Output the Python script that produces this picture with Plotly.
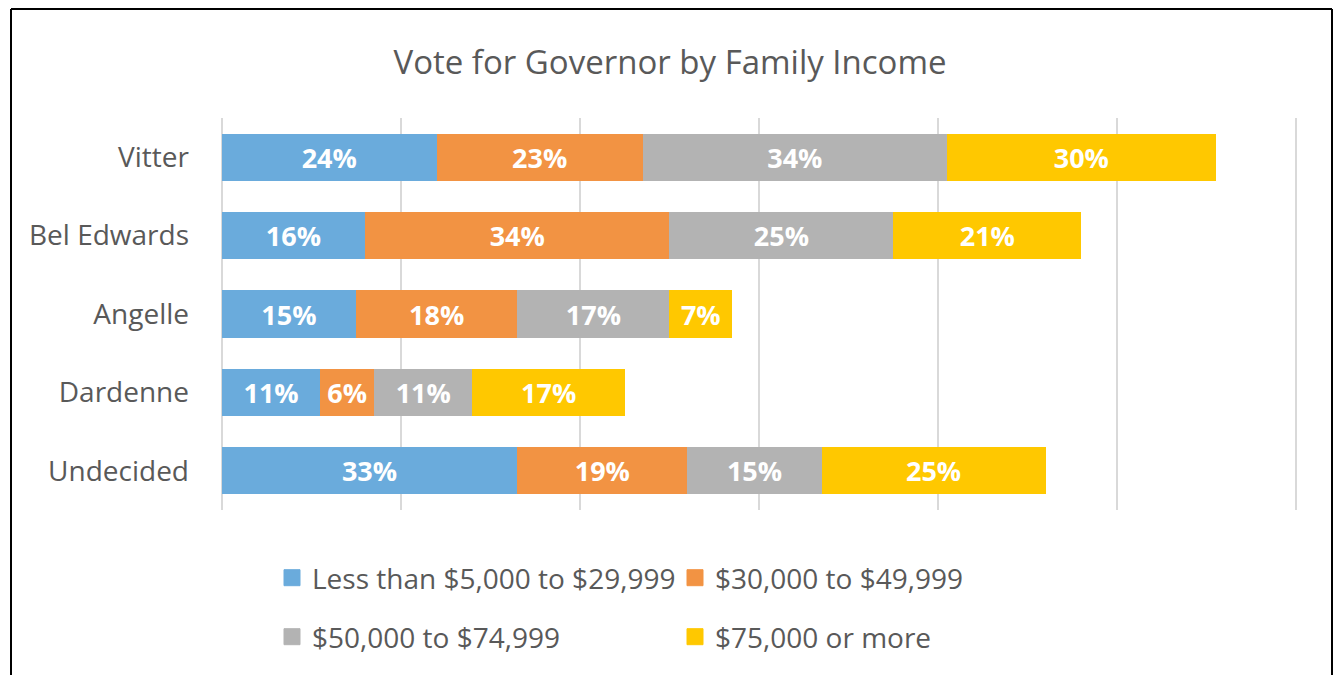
import plotly.graph_objects as go

categories = ["Vitter", "Bel Edwards", "Angelle", "Dardenne", "Undecided"]
series_names = ["Less than $5,000 to $29,999", "$30,000 to $49,999",
                "$50,000 to $74,999", "$75,000 or more"]
low_income = [24, 16, 15, 11, 33]
mid_income = [23, 34, 18, 6, 19]
upper_mid_income = [34, 25, 17, 11, 15]
high_income = [30, 21, 7, 17, 25]
x_ticks = [0, 20, 40, 60, 80, 100, 120]

series_values = [low_income, mid_income, upper_mid_income, high_income]
colors = ["#6AABDC", "#F29343", "#B3B3B3", "#FFC800"]
legend_ids = ["legend", "legend", "legend2", "legend2"]

W, H = 1340, 675
ML, MR, MT, MB = 220, 42, 118, 165
FONT = "Open Sans"
TXT = "#595959"

fig = go.Figure()
for name, vals, col in zip(series_names, series_values, colors):
    fig.add_trace(go.Bar(
        y=categories, x=vals, name=name, orientation="h",
        marker=dict(color=col, line=dict(width=0)),
        text=[f"{v}%" for v in vals], textposition="inside",
        insidetextanchor="middle", textangle=0,
        textfont=dict(family=FONT, size=27, color="white", weight="bold"),
        showlegend=False, hoverinfo="skip",
    ))
# legend entries with larger square swatches
for name, col, lg in zip(series_names, colors, legend_ids):
    fig.add_trace(go.Scatter(
        x=[None], y=[None], mode="markers", name=name, legend=lg,
        marker=dict(symbol="square", size=16, color=col, line=dict(width=1, color=col)),
        showlegend=True, hoverinfo="skip",
    ))

pw = W - ML - MR
ph = H - MT - MB
def px_x(p):
    return (p - ML) / pw
def px_y(p):
    return (H - MB - p) / ph

legend_common = dict(orientation="h", xref="container", yref="container",
                     x=272 / W, xanchor="left", yanchor="middle",
                     entrywidth=358, entrywidthmode="pixels", itemsizing="trace",
                     font=dict(family=FONT, size=28, color=TXT), traceorder="normal")

fig.update_layout(
    width=W, height=H, barmode="stack", bargap=0.4,
    paper_bgcolor="white", plot_bgcolor="white",
    margin=dict(l=ML, r=MR, t=MT, b=MB),
    font=dict(family=FONT, color=TXT),
    title=dict(text="Vote for Governor by Family Income", x=0.5, xref="container",
               xanchor="center", y=1 - 62 / H, yref="container", yanchor="middle",
               font=dict(family=FONT, size=33, color=TXT)),
    xaxis=dict(range=[x_ticks[0] - 0.2, x_ticks[-1] + 0.2], tickvals=x_ticks,
               showticklabels=False, showgrid=True, gridcolor="#D9D9D9", gridwidth=2,
               zeroline=False, showline=False, fixedrange=True),
    yaxis=dict(categoryorder="array", categoryarray=categories, autorange="reversed",
               showgrid=False, zeroline=False, showline=False, ticks="",
               ticklabelstandoff=30, tickfont=dict(family=FONT, size=28, color=TXT)),
    legend=dict(**legend_common, y=1 - 578 / H),
    legend2=dict(**legend_common, y=1 - 637 / H),
    showlegend=True,
)

# chart border (left, top, right; bottom edge outside the picture)
border = dict(type="line", xref="paper", yref="paper", line=dict(color="black", width=2))
fig.add_shape(**border, x0=px_x(11), x1=px_x(11), y0=px_y(9), y1=px_y(700))
fig.add_shape(**border, x0=px_x(11), x1=px_x(1332), y0=px_y(9), y1=px_y(9))
fig.add_shape(**border, x0=px_x(1332), x1=px_x(1332), y0=px_y(9), y1=px_y(700))

fig.write_html("out.html", config={"displayModeBar": False},
               post_script="document.body.style.margin='0';")
